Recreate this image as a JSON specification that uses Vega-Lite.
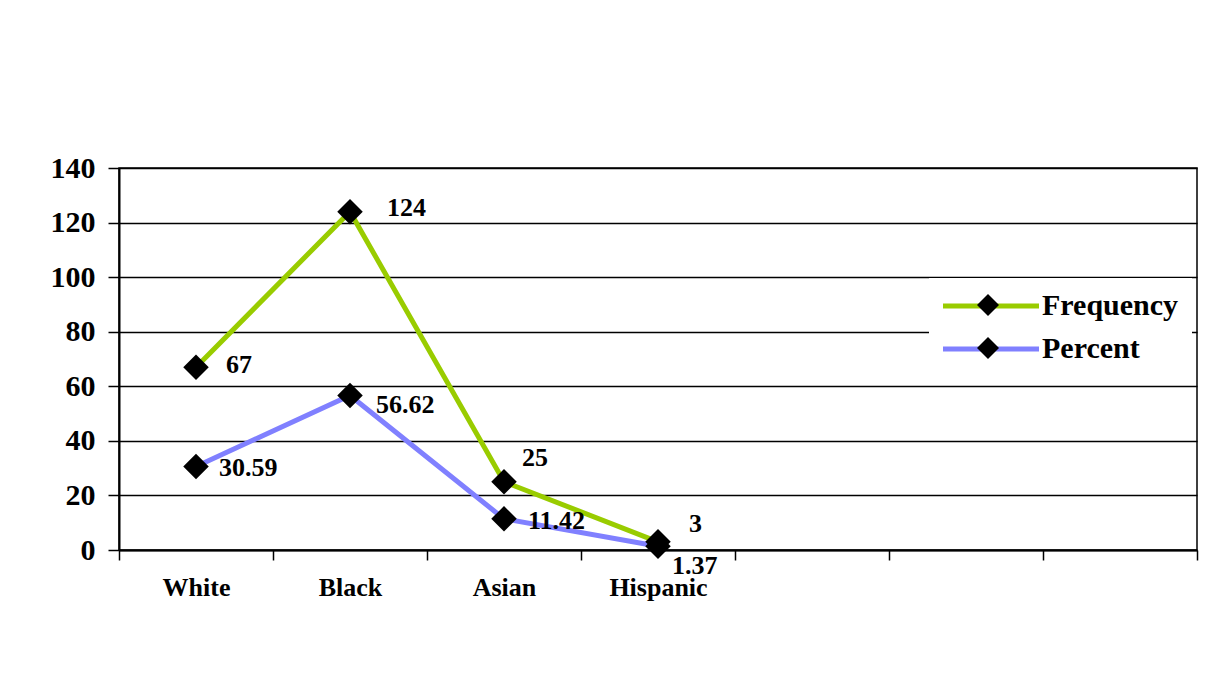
{
  "$schema": "https://vega.github.io/schema/vega-lite/v6.json",
  "autosize": "none",
  "width": 1078,
  "height": 382,
  "padding": {"left": 119, "top": 168, "right": 26, "bottom": 140},
  "background": "white",
  "config": {
    "view": {"stroke": "black", "strokeWidth": 1.5},
    "font": "Times New Roman, Liberation Serif, serif",
    "text": {"font": "Times New Roman, Liberation Serif, serif", "fontWeight": "bold", "fontSize": 26, "align": "left", "baseline": "middle", "color": "black"}
  },
  "data": {
    "values": [
      {"category": "White", "series": "Frequency", "value": 67},
      {"category": "Black", "series": "Frequency", "value": 124},
      {"category": "Asian", "series": "Frequency", "value": 25},
      {"category": "Hispanic", "series": "Frequency", "value": 3},
      {"category": "White", "series": "Percent", "value": 30.59},
      {"category": "Black", "series": "Percent", "value": 56.62},
      {"category": "Asian", "series": "Percent", "value": 11.42},
      {"category": "Hispanic", "series": "Percent", "value": 1.37}
    ]
  },
  "encoding": {
    "x": {
      "field": "category",
      "type": "nominal",
      "sort": null,
      "scale": {"domain": ["White", "Black", "Asian", "Hispanic", " ", "  ", "   "], "paddingInner": 0, "paddingOuter": 0},
      "axis": {
        "title": null,
        "labelAngle": 0,
        "tickBand": "extent",
        "tickSize": 10,
        "tickColor": "black",
        "tickWidth": 1.5,
        "domainColor": "black",
        "domainWidth": 2,
        "labelFont": "Times New Roman, Liberation Serif, serif",
        "labelFontWeight": "bold",
        "labelFontSize": 26,
        "labelColor": "black",
        "labelPadding": 14,
        "labelBaseline": "top",
        "grid": false
      }
    },
    "y": {
      "field": "value",
      "type": "quantitative",
      "scale": {"domain": [0, 140], "nice": false},
      "axis": {
        "title": null,
        "values": [0, 20, 40, 60, 80, 100, 120, 140],
        "tickSize": 11,
        "tickColor": "black",
        "tickWidth": 1.5,
        "domainColor": "black",
        "domainWidth": 2,
        "gridColor": "black",
        "gridWidth": 1.5,
        "gridOpacity": 1,
        "labelFont": "Times New Roman, Liberation Serif, serif",
        "labelFontWeight": "bold",
        "labelFontSize": 30,
        "labelColor": "black",
        "labelPadding": 13
      }
    }
  },
  "layer": [
    {
      "mark": {"type": "line", "strokeWidth": 5},
      "encoding": {
        "color": {
          "field": "series",
          "type": "nominal",
          "scale": {"domain": ["Frequency", "Percent"], "range": ["#99cc00", "#8080ff"]},
          "legend": {
            "title": null,
            "orient": "none",
            "direction": "vertical",
            "legendX": 810,
            "legendY": 110,
            "padding": 13,
            "fillColor": "white",
            "strokeColor": null,
            "symbolType": "M-4,0H4",
            "symbolSize": 576,
            "symbolStrokeWidth": 5,
            "symbolOffset": 34,
            "labelOffset": 36,
            "labelFont": "Times New Roman, Liberation Serif, serif",
            "labelFontWeight": "bold",
            "labelFontSize": 30,
            "labelColor": "black",
            "rowPadding": 13
          }
        }
      }
    },
    {
      "mark": {"type": "point", "filled": true, "color": "black", "opacity": 1, "size": 650},
      "encoding": {
        "shape": {
          "field": "series",
          "type": "nominal",
          "scale": {"domain": ["Percent", "Frequency"], "range": ["diamond", "diamond"]},
          "legend": {
            "title": null,
            "orient": "none",
            "direction": "vertical",
            "legendX": 858,
            "legendY": 126,
            "padding": 0,
            "symbolSize": 484,
            "symbolFillColor": "black",
            "symbolStrokeColor": "black",
            "symbolStrokeWidth": 0,
            "symbolOpacity": 1,
            "labelExpr": "''",
            "labelFontSize": 1,
            "rowPadding": 21
          }
        }
      }
    },
    {
      "transform": [{"filter": "datum.category == 'White' && datum.series == 'Frequency'"}],
      "mark": {"type": "text", "dx": 30, "dy": -2},
      "encoding": {"text": {"field": "value", "type": "quantitative"}}
    },
    {
      "transform": [{"filter": "datum.category == 'White' && datum.series == 'Percent'"}],
      "mark": {"type": "text", "dx": 23, "dy": 1},
      "encoding": {"text": {"field": "value", "type": "quantitative"}}
    },
    {
      "transform": [{"filter": "datum.category == 'Black' && datum.series == 'Frequency'"}],
      "mark": {"type": "text", "dx": 37, "dy": -4},
      "encoding": {"text": {"field": "value", "type": "quantitative"}}
    },
    {
      "transform": [{"filter": "datum.category == 'Black' && datum.series == 'Percent'"}],
      "mark": {"type": "text", "dx": 26, "dy": 9},
      "encoding": {"text": {"field": "value", "type": "quantitative"}}
    },
    {
      "transform": [{"filter": "datum.category == 'Asian' && datum.series == 'Frequency'"}],
      "mark": {"type": "text", "dx": 18, "dy": -24},
      "encoding": {"text": {"field": "value", "type": "quantitative"}}
    },
    {
      "transform": [{"filter": "datum.category == 'Asian' && datum.series == 'Percent'"}],
      "mark": {"type": "text", "dx": 24, "dy": 2},
      "encoding": {"text": {"field": "value", "type": "quantitative"}}
    },
    {
      "transform": [{"filter": "datum.category == 'Hispanic' && datum.series == 'Frequency'"}],
      "mark": {"type": "text", "dx": 31, "dy": -18},
      "encoding": {"text": {"field": "value", "type": "quantitative"}}
    },
    {
      "transform": [{"filter": "datum.category == 'Hispanic' && datum.series == 'Percent'"}],
      "mark": {"type": "text", "dx": 14, "dy": 20},
      "encoding": {"text": {"field": "value", "type": "quantitative"}}
    }
  ]
}
